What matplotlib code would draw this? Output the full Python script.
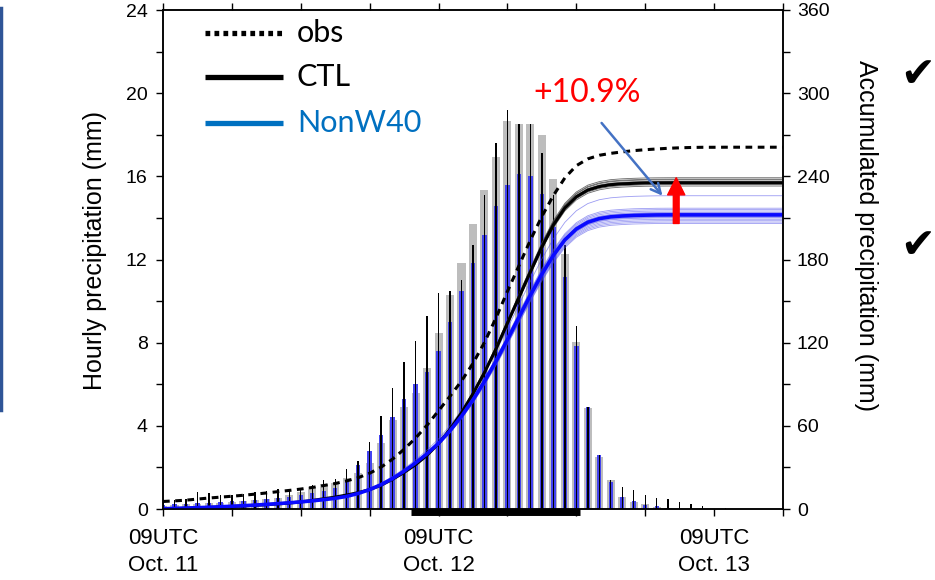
import numpy as np
import matplotlib.pyplot as plt
from matplotlib.lines import Line2D
from matplotlib.ticker import MultipleLocator, FixedLocator
from matplotlib.transforms import blended_transform_factory

# hours after 09UTC Oct. 11
hours = np.arange(0, 55)

obs_hourly = [0.43, 0.43, 0.5, 0.8, 0.75, 0.65, 0.65, 0.7, 0.8, 0.85,
              0.95, 0.9, 0.98, 1.15, 1.4, 1.45, 1.9, 2.3, 3.2, 4.45,
              5.8, 7.05, 8.1, 9.3, 10.4, 10.5, 11.0, 12.7, 15.1, 17.6,
              19.2, 18.5, 18.5, 17.1, 15.1, 12.7, 8.8, 4.9, 2.6, 1.4,
              1.05, 0.9, 0.67, 0.53, 0.5, 0.34, 0.24, 0.14, 0.0, 0.05,
              0.0, 0.0, 0.0, 0.0, 0.0]
ctl_hourly = [0.15, 0.2, 0.22, 0.25, 0.3, 0.3, 0.35, 0.4, 0.45, 0.5,
              0.55, 0.65, 0.8, 1.05, 1.2, 1.23, 1.48, 1.72, 2.2, 3.19,
              4.28, 4.92, 5.6, 6.8, 8.48, 10.29, 11.84, 13.73, 15.34, 16.94,
              18.65, 18.5, 18.5, 17.98, 15.88, 12.26, 8.05, 4.86, 2.5, 1.4,
              0.6, 0.35, 0.25, 0.1, 0.05, 0.02, 0.0, 0.0, 0.0, 0.0,
              0.0, 0.0, 0.0, 0.0, 0.0]
nonw40_hourly = [0.2, 0.22, 0.25, 0.28, 0.3, 0.35, 0.38, 0.4, 0.45, 0.5,
                 0.55, 0.6, 0.65, 0.75, 0.85, 0.99, 1.39, 2.1, 2.79, 3.56,
                 4.44, 5.29, 6.0, 6.6, 7.6, 9.0, 10.5, 11.84, 13.2, 14.57,
                 15.58, 16.1, 16.0, 15.14, 13.57, 11.17, 7.84, 4.89, 2.6, 1.3,
                 0.6, 0.4, 0.2, 0.15, 0.05, 0.0, 0.0, 0.0, 0.0, 0.0,
                 0.0, 0.0, 0.0, 0.0, 0.0]
obs_initial = 5.0

# final accumulated totals of the ensemble members (mm)
ctl_member_totals = [239, 238, 237.5, 236.5, 236, 235.5, 235, 234, 233]
nonw40_member_totals = [226, 217, 216, 215, 214, 213.5, 213, 212.5, 212,
                        211, 210.5, 210, 209, 208, 207, 206]

xtick_hours = [0, 24, 48]
xtick_labels = ['09UTC\nOct. 11', '09UTC\nOct. 12', '09UTC\nOct. 13']
heavy_period = (21.6, 36.3)
ratio_text = '+10.9%'

plt.rcParams['font.family'] = ['Liberation Sans', 'DejaVu Sans']

fig = plt.figure(figsize=(9.35, 5.8), dpi=100)
ax = fig.add_axes([163 / 935, 1 - 509 / 580, 620 / 935, 499 / 580])
ax2 = ax.twinx()

# hourly bars
ax.bar(hours, ctl_hourly, width=0.7, color='#bdbdbd', zorder=1)
ax.bar(hours, nonw40_hourly, width=0.38, color='#4343f0', zorder=2)
ax.bar(hours, obs_hourly, width=0.12, color='black', zorder=3)

# accumulated
ctl_acc = np.cumsum(ctl_hourly)
nonw40_acc = np.cumsum(nonw40_hourly)
obs_acc = obs_initial + np.cumsum(obs_hourly)

for tot in ctl_member_totals:
    ax2.plot(hours, ctl_acc * tot / ctl_acc[-1], color='#444444', lw=0.6, alpha=0.8)
for tot in nonw40_member_totals:
    ax2.plot(hours, nonw40_acc * tot / nonw40_acc[-1], color='#4a4ae8', lw=0.6, alpha=0.55)
ax2.plot(hours, ctl_acc, color='black', lw=2.2)
ax2.plot(hours, nonw40_acc, color='#0a0aff', lw=2.6)
ax2.plot(hours, obs_acc, color='black', lw=2.2, linestyle=(0, (2.2, 1.8)))

ax.set_xlim(0, 54)
ax.set_ylim(0, 24)
ax2.set_ylim(0, 360)

ax.xaxis.set_major_locator(FixedLocator(xtick_hours))
ax.xaxis.set_minor_locator(MultipleLocator(6))
ax.set_xticklabels(xtick_labels, fontsize=16, linespacing=1.35)
ax.yaxis.set_major_locator(MultipleLocator(4))
ax.yaxis.set_minor_locator(MultipleLocator(2))
ax2.yaxis.set_major_locator(MultipleLocator(60))
ax2.yaxis.set_minor_locator(MultipleLocator(30))

ax.tick_params(which='both', direction='out', length=5, width=1, top=True, right=False)
ax.tick_params(axis='y', labelsize=14, pad=6)
ax.tick_params(axis='x', pad=9)
ax2.tick_params(which='both', direction='out', length=5, width=1, labelsize=14, pad=5)
for a in (ax, ax2):
    for s in a.spines.values():
        s.set_linewidth(1.1)

# heavy rain period bar under the axis
trans = blended_transform_factory(ax.transData, ax.transAxes)
ax.plot(heavy_period, [-0.006, -0.006], transform=trans, color='black', lw=5,
        solid_capstyle='butt', clip_on=False, zorder=5)

fig.text(95 / 935, 1 - 250 / 580, 'Hourly precipitation (mm)', rotation=90,
         ha='center', va='center', fontsize=18)
fig.text(866 / 935, 1 - 236 / 580, 'Accumulated precipitation (mm)', rotation=270,
         ha='center', va='center', fontsize=18)

# annotations
ax2.text(36.9, 300, ratio_text, color='red', fontsize=23, family='Lato',
         ha='center', va='center')
ax2.annotate('', xy=(43.5, 226), xytext=(38.2, 278.5),
             arrowprops=dict(arrowstyle='->,head_length=0.7,head_width=0.35',
                             color='#4472c4', lw=1.8, shrinkA=0, shrinkB=0))
ax2.annotate('', xy=(44.7, 239), xytext=(44.7, 206),
             arrowprops=dict(arrowstyle='simple,head_length=0.95,head_width=0.95,tail_width=0.32',
                             color='red', mutation_scale=13, shrinkA=0, shrinkB=0))

# legend
leg = [('obs', 'black', (0, (0.9, 0.8)), 33),
       ('CTL', 'black', '-', 77),
       ('NonW40', '#0070c0', '-', 123)]
for name, col, ls, ypx in leg:
    y = 1 - ypx / 580
    fig.add_artist(Line2D([205 / 935, 283 / 935], [y, y], color=col, lw=3.8,
                          linestyle=ls, solid_capstyle='butt', dash_capstyle='butt'))
    fig.text(297 / 935, y, name, color=col, fontsize=22, family='Lato', va='center')

# slide decorations
fig.add_artist(Line2D([0.0015, 0.0015], [1 - 8 / 580, 1 - 410 / 580], color='#2f5597', lw=2.5))
fig.text(918 / 935, 1 - 75 / 580, '\u2714', fontsize=30, family='DejaVu Sans',
         ha='center', va='center')
fig.text(918 / 935, 1 - 246 / 580, '\u2714', fontsize=30, family='DejaVu Sans',
         ha='center', va='center')

fig.savefig('out.png', dpi=100)
